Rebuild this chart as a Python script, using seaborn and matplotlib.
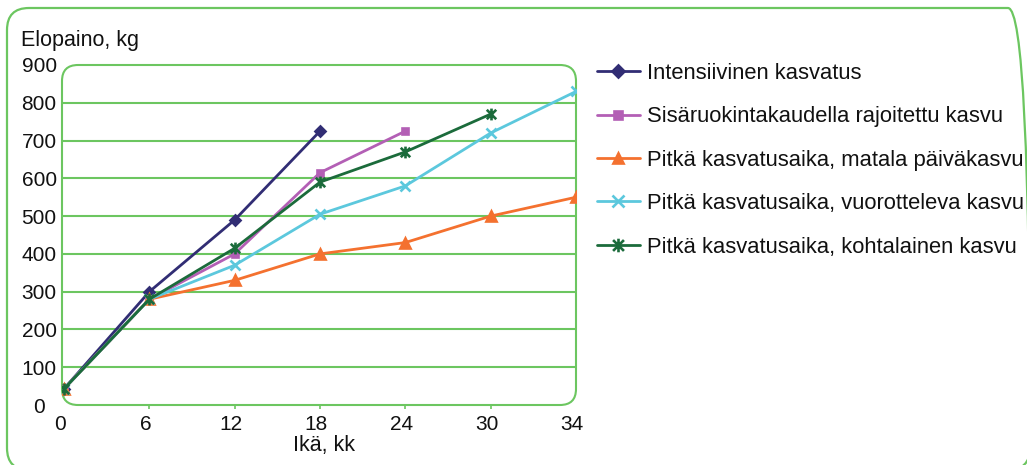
import matplotlib
matplotlib.use("Agg")
import matplotlib.pyplot as plt
import seaborn as sns
import pandas as pd
from matplotlib.patches import FancyBboxPatch
from matplotlib.path import Path
from matplotlib.transforms import ScaledTranslation

# Age categories (months) and live weight per feeding strategy (kg)
ages = ["0", "6", "12", "18", "24", "30", "34"]
intensiivinen = [43, 300, 490, 725]
sisaruokinta = [43, 280, 400, 615, 725]
matala = [43, 280, 330, 400, 430, 500, 550]
vuorotteleva = [43, 280, 370, 505, 580, 720, 830]
kohtalainen = [43, 280, 415, 590, 670, 770]

series_names = [
    "Intensiivinen kasvatus",
    "Sisäruokintakaudella rajoitettu kasvu",
    "Pitkä kasvatusaika, matala päiväkasvu",
    "Pitkä kasvatusaika, vuorotteleva kasvu",
    "Pitkä kasvatusaika, kohtalainen kasvu",
]
series_values = [intensiivinen, sisaruokinta, matala, vuorotteleva, kohtalainen]
yticks = [0, 100, 200, 300, 400, 500, 600, 700, 800, 900]

colors = ["#312d74", "#b35fb5", "#f4712f", "#5cc8dd", "#1b6b3b"]
green = "#6cc660"

# x with a vertical bar through it
star_x = Path(
    [(-1, -1), (1, 1), (-1, 1), (1, -1), (0, -1.25), (0, 1.25)],
    [Path.MOVETO, Path.LINETO, Path.MOVETO, Path.LINETO, Path.MOVETO, Path.LINETO],
)
markers = ["D", "s", "^", "x", star_x]
msizes = [5.0, 5.0, 6.5, 7.0, 8.5]

sns.set_theme(style="white")
plt.rcParams["font.family"] = ["Liberation Sans", "DejaVu Sans"]

W, H, DPI = 1027, 465, 100
fig = plt.figure(figsize=(W / DPI, H / DPI), dpi=DPI)
ax = fig.add_axes([62 / W, 1 - 405 / H, (576 - 62) / W, (405 - 65) / H])
ax.set_facecolor("none")

for name, vals, col, mk, ms in zip(series_names, series_values, colors, markers, msizes):
    df = pd.DataFrame({"pos": range(len(vals)), "paino": vals})
    sns.lineplot(
        data=df, x="pos", y="paino", ax=ax, color=col, lw=2.0,
        marker=mk, ms=ms, mec=col, mfc=col, mew=1.9, label=name, legend=False,
    )

ax.set_xlim(-0.024, 6)
ax.set_ylim(0, 900)
ax.set_xticks(range(len(ages)))
ax.set_xticklabels(ages)
ax.set_yticks(yticks)
ax.set_yticklabels([str(v) for v in yticks])
ax.set_xlabel("")
ax.set_ylabel("")
for s in ax.spines.values():
    s.set_visible(False)

ax.grid(axis="y", color=green, lw=1.5)
ax.grid(axis="x", visible=False)
ax.set_axisbelow(True)
glines = ax.get_ygridlines()
glines[0].set_visible(False)
glines[-1].set_visible(False)

ax.tick_params(axis="x", length=3, width=1.2, color=green, direction="out",
               pad=4.2, labelsize=15, labelcolor="#111111", bottom=True)
ax.tick_params(axis="y", length=0, pad=16.5, labelsize=15, labelcolor="#111111")
for lab in ax.get_yticklabels():
    lab.set_ha("center")
shift = ScaledTranslation(-4 / DPI, 0, fig.dpi_scale_trans)
for lab in ax.get_xticklabels():
    lab.set_transform(lab.get_transform() + shift)
xt = ax.xaxis.get_major_ticks()
xt[0].tick1line.set_visible(False)
xt[-1].tick1line.set_visible(False)

# rounded plot-area frame
frame = FancyBboxPatch(
    (62 / DPI, (H - 405) / DPI), (576 - 62) / DPI, (405 - 65) / DPI,
    boxstyle="round,pad=0,rounding_size=0.16",
    transform=fig.dpi_scale_trans, fill=False, ec=green, lw=1.5,
    clip_on=False, zorder=1,
)
ax.add_patch(frame)

# rounded outer border
outer = FancyBboxPatch(
    (7 / DPI, (H - 470) / DPI), (1030 - 7) / DPI, (470 - 8) / DPI,
    boxstyle="round,pad=0,rounding_size=0.22",
    transform=fig.dpi_scale_trans, fill=False, ec=green, lw=1.6,
)
fig.add_artist(outer)

fig.text(21 / W, 1 - 46 / H, "Elopaino, kg", fontsize=15.5, va="baseline",
         ha="left", color="#111111")
fig.text(324 / W, 1 - 451 / H, "Ikä, kk", fontsize=15.5, va="baseline",
         ha="center", color="#111111")

handles = ax.get_lines()[: len(series_names)]
fig.legend(
    handles, series_names, loc="upper left",
    bbox_to_anchor=(597 / W, 1 - 63 / H), frameon=False, fontsize=15.8,
    handlelength=1.95, handletextpad=0.32, labelspacing=1.02,
    borderpad=0, borderaxespad=0, markerscale=1.15,
    labelcolor="#111111",
)

fig.savefig("out.png", dpi=DPI)
